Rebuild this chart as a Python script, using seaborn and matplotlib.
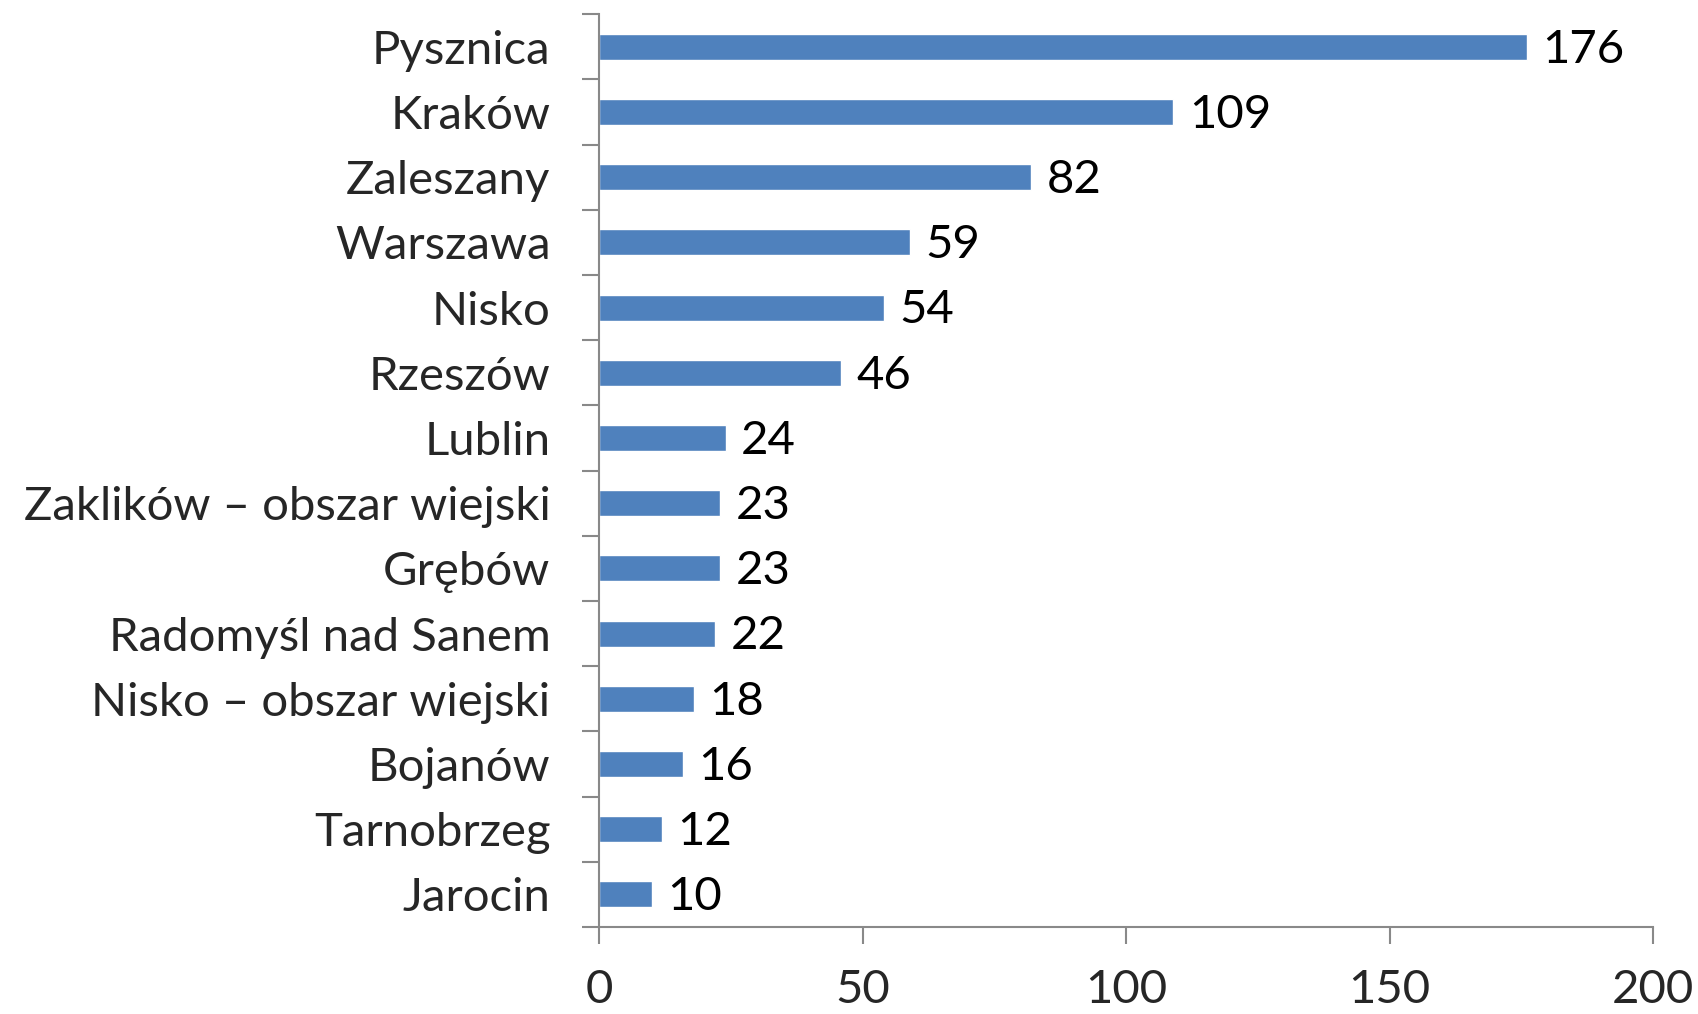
import numpy as np
import pandas as pd
import seaborn as sns
import matplotlib.pyplot as plt
from matplotlib.ticker import FixedLocator, NullFormatter

# Data
cities = ['Pysznica', 'Kraków', 'Zaleszany', 'Warszawa', 'Nisko', 'Rzeszów', 'Lublin',
          'Zaklików – obszar wiejski', 'Grębów', 'Radomyśl nad Sanem',
          'Nisko – obszar wiejski', 'Bojanów', 'Tarnobrzeg', 'Jarocin']
counts = [176, 109, 82, 59, 54, 46, 24, 23, 23, 22, 18, 16, 12, 10]
x_ticks = [0, 50, 100, 150, 200]

df = pd.DataFrame({'city': cities, 'count': counts})

sns.set_style('white')
plt.rcParams['font.family'] = ['Lato', 'DejaVu Sans']
fs = 34

fig = plt.figure(figsize=(16.98, 10.14), dpi=100)
ax = fig.add_axes([0.3528, 0.0858, 0.6207, 0.9002])

sns.barplot(data=df, x='count', y='city', color='#4F81BD', width=0.4,
            saturation=1, ax=ax)

# value labels next to bars (slightly below centre, like the original)
for i, v in enumerate(counts):
    ax.annotate(str(v), xy=(v, i), xytext=(11, -2), textcoords='offset points',
                ha='left', va='center', fontsize=fs, color='black')

ax.set_xlim(0, 200)
ax.set_ylim(len(cities) - 0.5, -0.5)
ax.set_xticks(x_ticks)
ax.set_xticklabels([str(t) for t in x_ticks], fontsize=fs)

# tick marks between categories, labels at category centres
ax.yaxis.set_major_locator(FixedLocator(np.arange(-0.5, len(cities), 1.0)))
ax.yaxis.set_major_formatter(NullFormatter())
ax.yaxis.set_minor_locator(FixedLocator(np.arange(len(cities))))
ax.set_yticklabels(cities, minor=True, fontsize=fs)
ax.tick_params(axis='y', which='minor', length=0, pad=35)
ax.tick_params(axis='y', which='major', length=12, width=1.5, color='#898989',
               direction='out', left=True)
ax.tick_params(axis='x', length=12, width=1.5, color='#898989',
               direction='out', bottom=True, pad=18)

for side in ['top', 'right']:
    ax.spines[side].set_visible(False)
for side in ['left', 'bottom']:
    ax.spines[side].set_color('#898989')
    ax.spines[side].set_linewidth(1.5)

ax.set_xlabel('')
ax.set_ylabel('')

fig.savefig('out.png', dpi=100)
